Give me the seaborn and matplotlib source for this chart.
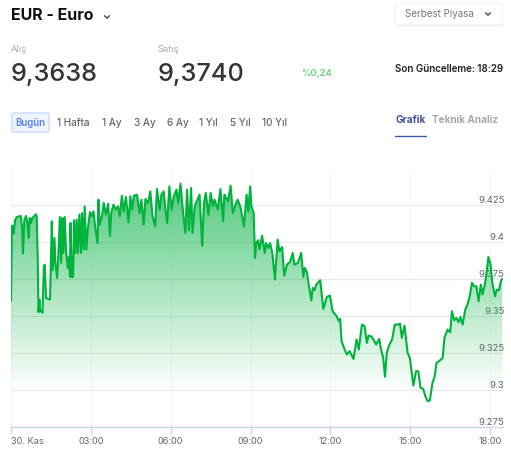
import numpy as np
import matplotlib
matplotlib.use('Agg')
import matplotlib.pyplot as plt
import seaborn as sns
from matplotlib.lines import Line2D
from matplotlib.patches import FancyBboxPatch, PathPatch

# minutes since midnight and EUR price
minutes = [0,2,4,6,9,13,22,25,27,30,34,37,40,42,45,48,52,56,58,60,62,64,66,69,71,74,76,79,88,92,94,98,100,104,107,110,113,116,118,121,124,128,131,133,134,137,140,142,145,148,151,154,158,160,164,166,170,173,178,182,186,190,195,197,200,205,209,214,219,223,226,231,236,241,245,250,254,259,265,269,273,277,284,290,294,299,303,309,314,319,325,329,335,339,344,348,352,357,362,367,373,377,382,388,393,397,401,406,409,414,420,425,431,435,439,445,450,455,459,466,472,478,481,489,495,500,506,511,517,525,531,535,539,
           542,547,550,553,557,560,566,572,575,580,584,589,595,601,605,611,616,622,629,635,639,647,654,659,662,667,671,677,680,684,688,697,704,712,719,725,734,
           739,742,745,752,757,763,767,772,779,784,791,797,802,806,812,817,823,830,834,839,843,847,853,859,865,872,877,881,887,894,899,907,913,918,923,929,934,939,944,950,955,959,965,973,977,984,990,994,999,1004,1009,1013,1018,1024,1029,1034,1039,1044,1049,1054,1059,1063,1068,1072,1076,1081,1085,1091,1095,1100,1104,1107]
prices = [9.3600,9.4106,9.4110,9.4057,9.4147,9.4169,9.4176,9.4095,9.3922,9.4151,9.4176,9.4129,9.4027,9.4162,9.4129,9.4162,9.4174,9.4187,9.4174,9.3926,9.3526,9.3611,9.3532,9.3532,9.3521,9.3836,9.3847,9.3622,9.3611,9.4140,9.3809,9.4027,9.3859,9.3757,9.3926,9.4169,9.3859,9.4162,9.3926,9.4169,9.3949,9.3825,9.3899,9.3764,9.4129,9.3764,9.3764,9.4147,9.3926,9.4151,9.3926,9.4185,9.3926,9.4196,9.3949,9.4241,9.3949,9.4083,9.4203,9.4174,9.4207,9.4095,9.3993,9.4286,9.4117,9.4174,9.4264,9.4185,9.4259,9.4039,9.4196,9.4252,9.4219,9.4241,9.4174,9.4313,9.4207,9.4304,9.4133,9.4309,9.4219,9.4313,9.4320,9.4196,9.4286,9.4117,9.4291,9.4264,9.4342,9.4174,9.4106,9.4358,9.4219,9.4320,9.4342,9.4219,9.4129,9.4376,9.4219,9.4309,9.4354,9.4264,9.4394,9.4196,9.4061,9.4354,9.4079,9.4365,9.4061,9.4241,9.4286,9.4320,9.3975,9.4264,9.4331,9.4185,9.4331,9.4241,9.4286,9.4219,9.4358,9.4140,9.4320,9.4275,9.4381,9.4196,9.4252,9.4286,9.4241,9.4106,9.4320,9.4207,9.4376,
          9.4241,9.4196,9.3892,9.3993,9.4012,9.3949,9.4043,9.3926,9.3993,9.3960,9.3993,9.3926,9.3746,9.4016,9.3937,9.3966,9.3773,9.3847,9.3865,9.3926,9.3847,9.3859,9.3926,9.3764,9.3825,9.3796,9.3712,9.3604,9.3690,9.3674,9.3712,9.3742,9.3548,9.3629,9.3638,9.3532,9.3499,
          9.3465,9.3480,9.3330,9.3274,9.3240,9.3262,9.3240,9.3210,9.3341,9.3274,9.3442,9.3431,9.3318,9.3368,9.3363,9.3341,9.3307,9.3345,9.3274,9.3217,9.3089,9.3251,9.3307,9.3341,9.3442,9.3442,9.3449,9.3352,9.3435,9.3251,9.3217,9.3030,9.3127,9.3127,9.3015,9.3008,9.2958,9.2925,9.2929,9.3048,9.3093,9.3183,9.3195,9.3217,9.3352,9.3408,9.3390,9.3532,9.3471,9.3487,9.3458,9.3494,9.3442,9.3544,9.3577,9.3633,9.3724,9.3701,9.3701,9.3600,9.3712,9.3645,9.3712,9.3791,9.3899,9.3847,9.3724,9.3633,9.3678,9.3674,9.3735,9.3750]

x_ticks = [0, 180, 360, 540, 720, 900, 1080]
x_labels = ['30. Kas', '03:00', '06:00', '09:00', '12:00', '15:00', '18:00']
y_ticks = [9.275, 9.3, 9.325, 9.35, 9.375, 9.4, 9.425]
y_labels = ['9.275', '9.3', '9.325', '9.35', '9.375', '9.4', '9.425']
periods = ['1 Hafta', '1 Ay', '3 Ay', '6 Ay', '1 Yıl', '5 Yıl', '10 Yıl']
period_x = [57, 102, 134, 167, 199, 230, 262]

W, H = 511, 453
sns.set_style('white')
plt.rcParams['font.family'] = ['Inter', 'DejaVu Sans']

fig = plt.figure(figsize=(W / 100, H / 100), dpi=100)
ax = fig.add_axes([11 / W, 1 - 427 / H, 492 / W, 259 / H])


def label(x, y, s, size, color, weight='normal', ha='left'):
    fig.text(x / W, 1 - y / H, s, fontsize=size, color=color, fontweight=weight, ha=ha, va='center')


def chevron(x, y, color='#444444'):
    fig.add_artist(Line2D([(x - 2.4) / W, x / W, (x + 2.4) / W],
                          [1 - (y - 1.2) / H, 1 - (y + 1.2) / H, 1 - (y - 1.2) / H],
                          color=color, lw=1))


y_min, y_max = 9.275, 9.4500
x_max = 1109

sns.lineplot(x=minutes, y=prices, color='#00b33c', lw=1.5, ax=ax, zorder=3)

# gradient under the line
fill = ax.fill_between(minutes, prices, y_min, color='none')
levels = np.linspace(y_max, y_min, 256)
rgba = np.zeros((256, 1, 4))
rgba[..., 0] = 0 / 255
rgba[..., 1] = 176 / 255
rgba[..., 2] = 64 / 255
rgba[:, 0, 3] = np.clip((levels - 9.298) / (9.44 - 9.298), 0, 1) * 0.68
im = ax.imshow(rgba, extent=[0, x_max, y_min, y_max], aspect='auto', zorder=1)
clip = PathPatch(fill.get_paths()[0], transform=ax.transData, facecolor='none', edgecolor='none')
ax.add_patch(clip)
im.set_clip_path(clip)

ax.set_xlim(0, x_max)
ax.set_ylim(y_min, y_max)
ax.set_xlabel('')
ax.set_ylabel('')
ax.set_xticks(x_ticks)
ax.set_xticklabels(x_labels, fontsize=6.6, color='#666666')
ax.xaxis.get_major_ticks()[0].label1.set_ha('left')
ax.set_yticks(y_ticks)
ax.set_yticklabels(y_labels, fontsize=6.9, color='#666666', ha='right', va='bottom')
ax.yaxis.tick_right()
ax.tick_params(axis='y', length=0, pad=1, labelright=True, labelleft=False)
ax.tick_params(axis='x', length=5, width=1, color='#ccd6eb', pad=2, bottom=True)
for t in ax.get_yticklabels():
    t.set_zorder(5)
ax.grid(axis='y', color='#e9e9e9', lw=0.9)
ax.grid(axis='x', color='#f7f7f9', lw=0.9)
ax.set_axisbelow(True)
for side in ['top', 'right', 'left']:
    ax.spines[side].set_visible(False)
ax.spines['bottom'].set_color('#ccd6eb')
ax.spines['bottom'].set_linewidth(1)

# page header around the chart
label(11, 16, 'EUR - Euro', 11.5, '#111111', 'bold')
chevron(107, 17)
fig.add_artist(FancyBboxPatch((395.5 / W, 1 - 26 / H), 107 / W, 22 / H, boxstyle='round,pad=0,rounding_size=0.003',
                              transform=fig.transFigure, facecolor='#f0f0f0', edgecolor='#f4f4f4', lw=1))
fig.add_artist(FancyBboxPatch((395.5 / W, 1 - 25 / H), 107 / W, 21.5 / H, boxstyle='round,pad=0,rounding_size=0.003',
                              transform=fig.transFigure, facecolor='white', edgecolor='#f2f2f2', lw=0.8))
label(405, 14, 'Serbest Piyasa', 7.1, '#777777')
chevron(488, 14)

label(11, 50, 'Alış', 6.8, '#aaaaaa')
label(157.5, 50, 'Satış', 6.8, '#aaaaaa')
label(11, 75, '9,3638', 18.2, '#333333', 'medium')
label(157.5, 75, '9,3740', 18.2, '#333333', 'medium')
label(301, 74, '%0,24', 6.8, '#63d37e', 'semibold')
label(503, 69, 'Son Güncelleme: 18:29', 7.1, '#222222', 'semibold', ha='right')

fig.add_artist(FancyBboxPatch((12 / W, 1 - 132 / H), 37 / W, 19 / H, boxstyle='round,pad=0,rounding_size=0.004',
                              transform=fig.transFigure, facecolor='#eef4ff', edgecolor='#c9dafc', lw=1))
label(15, 122.5, 'Bugün', 7, '#5b82f0', 'semibold')
for px, name in zip(period_x, periods):
    label(px, 122.5, name, 7.2, '#666666', 'medium')

label(395, 120, 'Grafik', 7.3, '#3f519f', 'bold')
label(432, 120, 'Teknik Analiz', 7.2, '#a6a6ae', 'bold')
fig.add_artist(Line2D([395 / W, 426 / W], [1 - 135.5 / H, 1 - 135.5 / H], color='#3a5ba8', lw=1))

fig.savefig('out.png', dpi=100)
